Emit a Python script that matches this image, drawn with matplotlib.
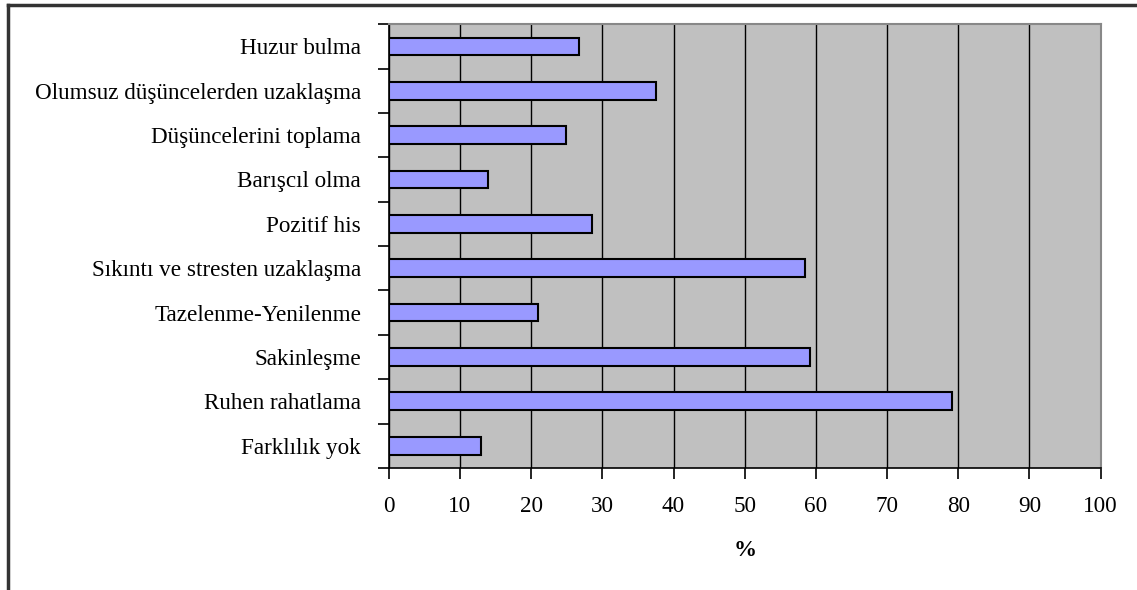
import numpy as np
import matplotlib.pyplot as plt
from matplotlib.lines import Line2D

labels = ["Huzur bulma", "Olumsuz düşüncelerden uzaklaşma", "Düşüncelerini toplama",
          "Barışcıl olma", "Pozitif his", "Sıkıntı ve stresten uzaklaşma",
          "Tazelenme-Yenilenme", "Sakinleşme", "Ruhen rahatlama", "Farklılık yok"]
values = [26.7, 37.5, 24.9, 13.9, 28.5, 58.4, 21.0, 59.2, 79.1, 13.0]
xticks = [0, 10, 20, 30, 40, 50, 60, 70, 80, 90, 100]

plt.rcParams['font.family'] = ['Liberation Serif', 'DejaVu Serif']
fs = 16.7

fig = plt.figure(figsize=(11.37, 5.90), dpi=100)
ax = fig.add_axes([0.342, 0.207, 0.626, 0.752])
ax.set_facecolor('#C0C0C0')

y = np.arange(len(labels))
ax.barh(y, values, height=0.4, color='#9999FF', edgecolor='black', linewidth=1.5, zorder=3)

ax.set_xlim(0, 100)
ax.set_ylim(len(labels) - 0.5, -0.5)
ax.set_xticks(xticks)
ax.set_xticklabels([str(t) for t in xticks], fontsize=fs)
ax.xaxis.grid(True, color='black', linewidth=1.0, zorder=1)
ax.set_axisbelow(True)

# category labels centred on bars, tick marks between categories
ax.set_yticks(y)
ax.set_yticklabels(labels, fontsize=fs)
ax.set_yticks(np.arange(-0.5, len(labels)), minor=True)
ax.tick_params(axis='y', which='major', length=0, pad=20)
ax.tick_params(axis='y', which='minor', length=8, width=1.2, direction='out')
ax.tick_params(axis='x', length=8, width=1.2, direction='out', pad=12)

ax.set_xlabel('%', fontsize=fs, fontweight='bold', labelpad=17)

for side in ['top', 'right']:
    ax.spines[side].set_color('#888888')
    ax.spines[side].set_linewidth(1.5)
for side in ['left', 'bottom']:
    ax.spines[side].set_color('black')
    ax.spines[side].set_linewidth(1.2)

# outer chart border
fig.add_artist(Line2D([0.007, 1.0], [0.9915, 0.9915], color='#333333', linewidth=2.5,
                      transform=fig.transFigure))
fig.add_artist(Line2D([0.007, 0.007], [0.0, 0.9915], color='#333333', linewidth=2.5,
                      transform=fig.transFigure))

fig.savefig('out.png', dpi=100)
